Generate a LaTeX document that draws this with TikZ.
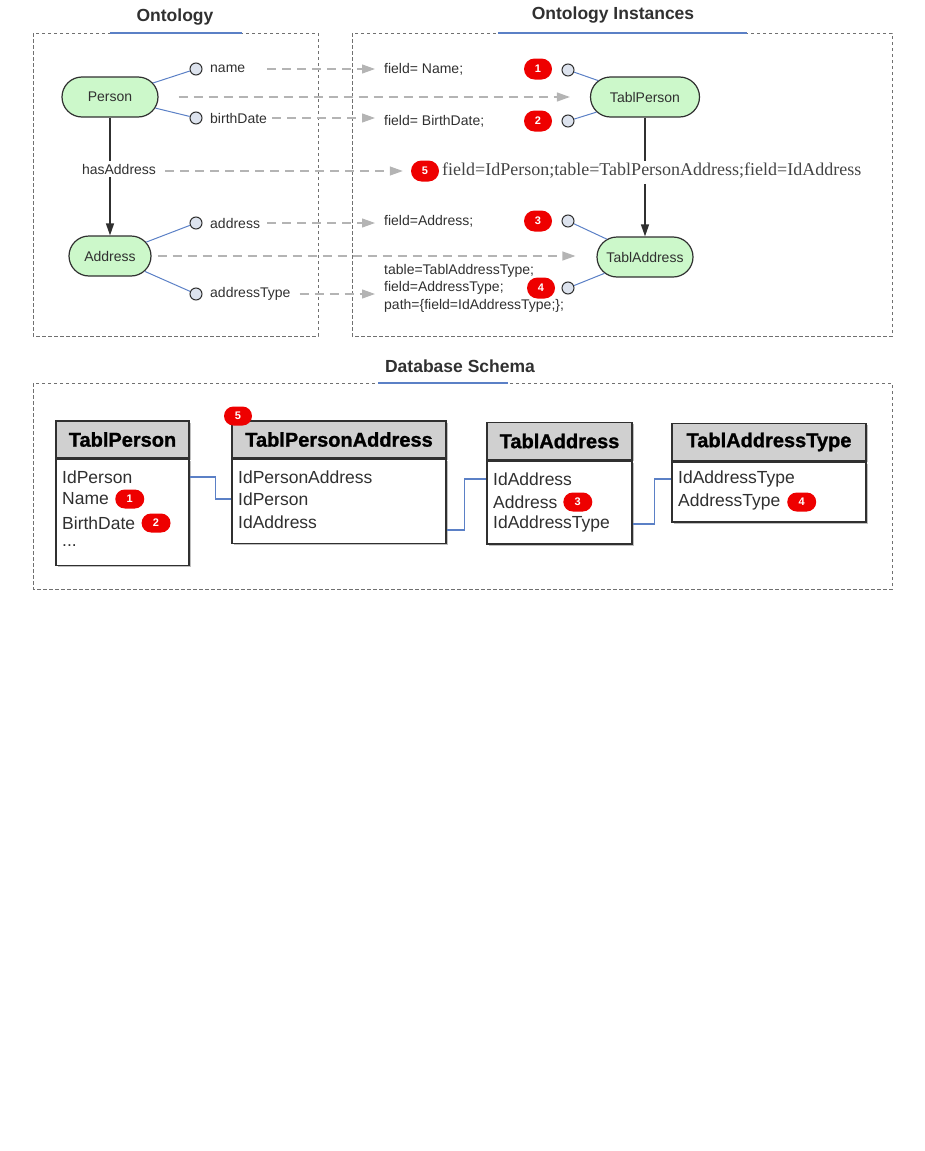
\documentclass[tikz,border=0pt]{standalone}
\usepackage{fontspec}
\setmainfont{Liberation Sans}
\newfontfamily\serifx{Liberation Serif}
\newfontfamily\heavyfont[FakeBold=1.2]{Liberation Sans Bold}
\usetikzlibrary{arrows.meta,shapes.misc,calc,shadows}
\definecolor{txt}{HTML}{303030}
\definecolor{boxline}{HTML}{707070}
\definecolor{pillfill}{HTML}{CCF8CA}
\definecolor{propfill}{HTML}{DDE3EE}
\definecolor{blueline}{HTML}{5B80C6}
\definecolor{maparrow}{HTML}{B4B4B4}
\definecolor{badgered}{HTML}{EE0000}
\definecolor{hdrfill}{HTML}{D0D0D0}
\begin{document}
\begin{tikzpicture}[x=1pt,y=-1pt,
 panel/.style={draw=boxline, line width=0.9pt, dash pattern=on 3.5pt off 2.5pt},
 title/.style={font=\fontsize{17.5}{20}\selectfont\bfseries, text=txt},
 uline/.style={draw=blueline, line width=1.1pt},
 pill/.style={draw=txt, line width=1.2pt, fill=pillfill, rounded rectangle, minimum height=40pt, inner sep=0pt, font=\fontsize{14}{16}\selectfont, text=txt},
 prop/.style={circle, draw=txt, line width=1pt, fill=propfill, minimum size=12pt, inner sep=0pt},
 lbl/.style={font=\fontsize{14}{17.5}\selectfont, text=txt, inner sep=0pt, anchor=west, align=left},
 mapping/.style={draw=maparrow, line width=1.2pt, dash pattern=on 9pt off 6pt, -{Triangle[length=13pt,width=9pt,fill=maparrow]}},
 link/.style={draw=blueline, line width=1pt},
 rel/.style={draw=txt, line width=1.3pt},
 relarrow/.style={rel, -{Triangle[length=12pt,width=8pt]}},
 badge/.style={fill=badgered, rounded rectangle, minimum width=28pt, minimum height=21pt, inner sep=0pt, text=white, font=\fontsize{11}{12}\selectfont\bfseries},
 tbadge/.style={badge, minimum width=29pt, minimum height=19pt, anchor=west},
 tshadow/.style={drop shadow={shadow xshift=1.5pt, shadow yshift=-1.5pt, opacity=0.25, fill=black}},
 thdr/.style={draw=txt, line width=1.5pt, fill=hdrfill, minimum height=37pt, inner sep=0pt, font=\fontsize{20}{22}\selectfont\heavyfont, text=black, tshadow},
 tbody/.style={draw=txt, line width=1.5pt, fill=white, inner sep=0pt, anchor=north, tshadow},
 row/.style={font=\fontsize{17.5}{20}\selectfont, text=txt, inner sep=0pt, anchor=west},
 fk/.style={draw=blueline, line width=1.1pt},
]
\useasboundingbox (0,0) rectangle (925,1151);
% panels
\draw[panel] (33,33) rectangle (318,336);
\draw[panel] (352,33) rectangle (892,336);
\draw[panel] (33,383) rectangle (892,589);
\draw[uline] (110,33) -- (242,33);
\draw[uline] (498,33) -- (747,33);
\draw[uline] (378,383) -- (508,383);
\node[title] (t1) at (175,17) {Ontology};
\node[title] (t2) at (613,15) {Ontology Instances};
\node[title] (t3) at (460,366) {Database Schema};
% ontology
\node[pill, minimum width=96pt] (person) at (110,97) {Person};
\node[prop] (pname) at (196,69) {};
\node[lbl] (tname) at (210,69) {name};
\node[prop] (pbirth) at (196,118) {};
\node[lbl] (tbirth) at (210,118) {birthDate};
\draw[link] (person) -- (pname);
\draw[link] (person) -- (pbirth);
\node[font=\fontsize{14}{16}\selectfont, text=txt, inner sep=3pt] (has) at (119,169) {hasAddress};
\node[pill, minimum width=82pt] (address) at (110,256) {Address};
\draw[rel] (person.south) -- (person.south |- has.north);
\draw[relarrow] (address.north |- has.south) -- (address.north);
\node[prop] (paddr) at (196,223) {};
\node[lbl] (taddr) at (210,223) {address};
\node[prop] (ptype) at (196,294) {};
\node[lbl] (ttype) at (210,294) {addressType};
\draw[link] (address) -- (paddr);
\draw[link] (address) -- (ptype);
% instances
\node[lbl] (fname) at (384,69) {field= Name;};
\node[badge] (b1) at (538,69) {1};
\node[prop] (qname) at (568,70) {};
\node[lbl] (fbirth) at (384,121) {field= BirthDate;};
\node[badge] (b2) at (538,121) {2};
\node[prop] (qbirth) at (568,121) {};
\node[pill, minimum width=109pt] (tperson) at (645,97) {TablPerson};
\draw[link] (qname) -- (tperson);
\draw[link] (qbirth) -- (tperson);
\node[badge] (b5) at (425,171) {5};
\node[font=\fontsize{18}{20}\selectfont\serifx, text=txt!90!white, inner sep=0pt, anchor=west] (fpath) at (442,171) {field=IdPerson;table=TablPersonAddress;field=IdAddress};
\node[pill, minimum width=96pt] (taddress) at (645,257) {TablAddress};
\draw[rel] (tperson.south) -- ($(tperson.south |- fpath.north)+(0,-2)$);
\draw[relarrow] ($(taddress.north |- fpath.south)+(0,5)$) -- (taddress.north);
\node[lbl] (faddr) at (384,221) {field=Address;};
\node[badge] (b3) at (538,221) {3};
\node[prop] (qaddr) at (568,221) {};
\node[lbl] (ftype) at (384,288) {table=TablAddressType;\\field=AddressType;\\path=\{field=IdAddressType;\};};
\node[badge] (b4) at (541,288) {4};
\node[prop] (qtype) at (568,288) {};
\draw[link] (qaddr) -- (taddress);
\draw[link] (qtype) -- (taddress);
% mappings
\draw[mapping, shorten >=9pt] ([xshift=22pt]tname.east) -- (fname.west |- tname.east);
\draw[mapping, shorten >=20pt] ([xshift=20pt]person.east) -- (tperson.west |- person.east);
\draw[mapping, shorten >=9pt] ([xshift=5pt]tbirth.east) -- (fbirth.west |- tbirth.east);
\draw[mapping, shorten >=8pt] ([xshift=6pt]has.east |- b5.west) -- (b5.west);
\draw[mapping, shorten >=9pt] ([xshift=7pt]taddr.east) -- (faddr.west |- taddr.east);
\draw[mapping, shorten >=21pt] ([xshift=6pt]address.east) -- (taddress.west |- address.east);
\draw[mapping, shorten >=9pt] ([xshift=9pt]ttype.east) -- (ftype.west |- ttype.east);
% database schema
\node[thdr, minimum width=133pt] (tph) at (122.5,439.5) {TablPerson};
\node[tbody, minimum width=133pt, minimum height=106pt] (tpb) at (tph.south) {};
\node[row] (tp1) at (62,477) {IdPerson};
\node[row] (tp2) at (62,499) {Name};
\node[row] (tp3) at (62,523) {BirthDate};
\node[row] (tp4) at (62,546) {...};
\node[tbadge] (tb1) at ([xshift=6pt]tp2.east) {1};
\node[tbadge] (tb2) at ([xshift=6pt]tp3.east) {2};

\node[thdr, minimum width=214pt] (tpah) at (339,439.5) {TablPersonAddress};
\node[tbody, minimum width=214pt, minimum height=84pt] (tpab) at (tpah.south) {};
\node[row] (tpa1) at (238,477) {IdPersonAddress};
\node[row] (tpa2) at (238,499) {IdPerson};
\node[row] (tpa3) at (238,522) {IdAddress};
\node[badge, minimum height=19pt] (tb5) at (238,416) {5};

\node[thdr, minimum width=145pt] (tah) at (559.5,441) {TablAddress};
\node[tbody, minimum width=145pt, minimum height=83pt] (tab) at (tah.south) {};
\node[row] (ta1) at (493,479) {IdAddress};
\node[row] (ta2) at (493,502) {Address};
\node[row] (ta3) at (493,524) {IdAddressType};
\node[tbadge] (tb3) at ([xshift=5.5pt]ta2.east) {3};

\node[thdr, minimum width=194pt] (tath) at (769,442) {TablAddressType};
\node[tbody, minimum width=194pt, minimum height=60pt] (tatb) at (tath.south) {};
\node[row] (tat1) at (678,479) {IdAddressType};
\node[row] (tat2) at (678,502) {AddressType};
\node[tbadge] (tb4) at ([xshift=6.5pt]tat2.east) {4};

\draw[fk] (tpb.east |- tp1) -- ++(26,0) |- (tpab.west |- tpa2);
\draw[fk] ($(tpab.east |- tpa3)+(0,8)$) -- ++(18,0) |- (tab.west |- ta1);
\draw[fk] (tab.east |- ta3) -- ++(22,0) |- (tatb.west |- tat1);
\end{tikzpicture}
\end{document}
